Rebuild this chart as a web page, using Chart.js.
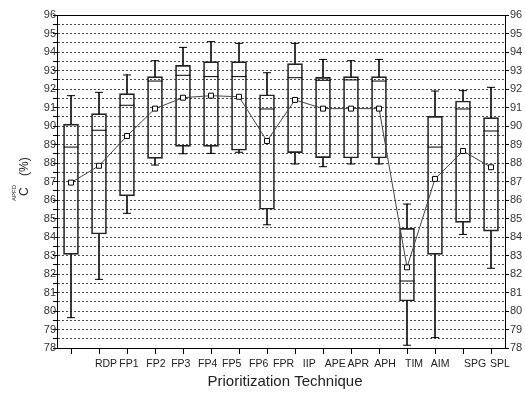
<!DOCTYPE html>
<html>
<head>
<meta charset="utf-8">
<script src="https://cdn.jsdelivr.net/npm/chart.js@4/dist/chart.umd.min.js"></script>
<style>
  body { margin: 0; background: #fff; }
  #wrap { width: 525px; height: 394px; }
</style>
</head>
<body>
<div id="wrap"><canvas id="boxChart" width="525" height="394"></canvas></div>
<script>
// techniques, left to right
const categories = ["RDP", "FP1", "FP2", "FP3", "FP4", "FP5", "FP6", "FPR", "IIP", "APE", "APR", "APH", "TIM", "AIM", "SPG", "SPL"];

// box plot values (%)
const whiskerHigh = [91.64, 91.82, 92.76, 93.53, 94.25, 94.56, 94.47, 92.88, 94.47, 93.60, 93.53, 93.60, 85.78, 91.89, 91.91, 92.09];
const q3          = [90.10, 90.67, 91.75, 92.67, 93.28, 93.48, 93.48, 91.69, 93.37, 92.63, 92.67, 92.67, 84.47, 90.52, 91.35, 90.45];
const median      = [88.86, 89.77, 91.12, 92.43, 92.74, 92.67, 92.67, 90.92, 92.61, 92.47, 92.49, 92.43, 81.62, 88.86, 90.92, 89.73];
const q1          = [83.06, 84.16, 86.22, 88.25, 88.90, 88.90, 88.69, 85.50, 88.56, 88.29, 88.27, 88.27, 80.54, 83.06, 84.79, 84.32];
const whiskerLow  = [79.64, 81.71, 85.28, 87.89, 88.50, 88.52, 88.58, 84.66, 87.95, 87.80, 87.95, 87.95, 78.15, 78.56, 84.14, 82.31];
const mean        = [86.94, 87.85, 89.46, 90.94, 91.53, 91.64, 91.58, 89.19, 91.41, 90.94, 90.94, 90.94, 82.36, 87.14, 88.65, 87.77];

// y axis
const yMin = 78;
const yMax = 96;

// where the tick label text sits (in category units, the labels drift in the original)
const labelAt = [1.25, 2.07, 3.03, 3.92, 4.88, 5.74, 6.70, 7.59, 8.51, 9.44, 10.26, 11.22, 12.25, 13.18, 14.43, 15.32];

const xTitle = "Prioritization Technique";

/* text + frame drawn on top */
const textPlugin = {
  id: "textPlugin",
  afterDraw(chart) {
    const ctx = chart.ctx;
    const area = chart.chartArea;
    const xs = chart.scales.x;
    ctx.save();

    // top frame line
    ctx.strokeStyle = "#000";
    ctx.lineWidth = 1;
    ctx.beginPath();
    ctx.moveTo(area.left, area.top + 0.5);
    ctx.lineTo(area.right, area.top + 0.5);
    ctx.stroke();

    // category labels
    ctx.fillStyle = "#222";
    ctx.font = "10.5px Arial";
    ctx.textAlign = "center";
    ctx.textBaseline = "middle";
    categories.forEach((c, i) => {
      ctx.fillText(c, xs.getPixelForValue(labelAt[i]), area.bottom + 16);
    });

    // x title
    ctx.font = "15px Arial";
    ctx.fillText(xTitle, (area.left + area.right) / 2 + 4, area.bottom + 34);

    // y title
    ctx.translate(25, 182);
    ctx.rotate(-Math.PI / 2);
    ctx.font = "12px Arial";
    ctx.textAlign = "left";
    ctx.fillText("C", -14, 0);
    ctx.fillText("(%)", 6, 0);
    ctx.font = "6px Arial";
    ctx.fillText("APFD", -19, -11);
    ctx.restore();
  }
};

const ctx = document.getElementById("boxChart");

new Chart(ctx, {
  type: "bar",
  data: {
    labels: categories,
    datasets: [
      {
        type: "line",
        label: "Mean",
        data: mean,
        borderColor: "#444",
        borderWidth: 1,
        pointStyle: "rect",
        pointRadius: 3.5,
        pointBackgroundColor: "#fff",
        pointBorderColor: "#000",
        pointBorderWidth: 1,
        order: 0
      },
      {
        type: "line",
        label: "Median",
        data: median,
        showLine: false,
        pointStyle: "line",
        pointRadius: 7.5,
        pointBorderColor: "#000",
        pointBorderWidth: 1,
        order: 1
      },
      {
        type: "line",
        label: "Max",
        data: whiskerHigh,
        showLine: false,
        pointStyle: "line",
        pointRadius: 4,
        pointBorderColor: "#000",
        pointBorderWidth: 1,
        order: 2
      },
      {
        type: "line",
        label: "Min",
        data: whiskerLow,
        showLine: false,
        pointStyle: "line",
        pointRadius: 4,
        pointBorderColor: "#000",
        pointBorderWidth: 1,
        order: 2
      },
      {
        label: "Box",
        data: categories.map((c, i) => [q1[i], q3[i]]),
        backgroundColor: "rgba(0,0,0,0)",
        borderColor: "#222",
        borderWidth: 1,
        borderSkipped: false,
        barThickness: 15,
        grouped: false,
        order: 3
      },
      {
        label: "Upper whisker",
        data: categories.map((c, i) => [q3[i], whiskerHigh[i]]),
        backgroundColor: "#111",
        borderWidth: 0,
        barThickness: 1,
        grouped: false,
        order: 4
      },
      {
        label: "Lower whisker",
        data: categories.map((c, i) => [whiskerLow[i], q1[i]]),
        backgroundColor: "#111",
        borderWidth: 0,
        barThickness: 1,
        grouped: false,
        order: 4
      }
    ]
  },
  options: {
    responsive: false,
    animation: false,
    layout: { padding: { top: 15, left: 0, right: 0, bottom: 0 } },
    plugins: {
      legend: { display: false },
      tooltip: { enabled: false }
    },
    scales: {
      x: {
        type: "category",
        offset: true,
        grid: {
          display: true,
          offset: false,
          drawOnChartArea: false,
          drawTicks: true,
          tickLength: 6,
          color: "#000"
        },
        border: { color: "#000" },
        ticks: { callback: () => "", font: { size: 1 } },
        afterFit(scale) { scale.height = 46; }
      },
      y: {
        position: "left",
        min: yMin,
        max: yMax,
        grid: {
          color: "rgba(0,0,0,0.7)",
          tickLength: 4,
          tickColor: "#000"
        },
        border: { color: "#000", dash: [2, 2] },
        ticks: {
          stepSize: 0.5,
          autoSkip: false,
          padding: -3,
          color: "#333",
          font: { family: "Arial", size: 11 },
          callback: v => Number.isInteger(v) ? v : ""
        },
        afterFit(scale) { scale.width = 57; }
      },
      y2: {
        position: "right",
        min: yMin,
        max: yMax,
        grid: {
          drawOnChartArea: false,
          tickLength: 4,
          color: "#000"
        },
        border: { color: "#000" },
        ticks: {
          stepSize: 1,
          padding: 1,
          color: "#333",
          font: { family: "Arial", size: 11 }
        },
        afterFit(scale) { scale.width = 20; }
      }
    }
  },
  plugins: [textPlugin]
});
</script>
</body>
</html>
